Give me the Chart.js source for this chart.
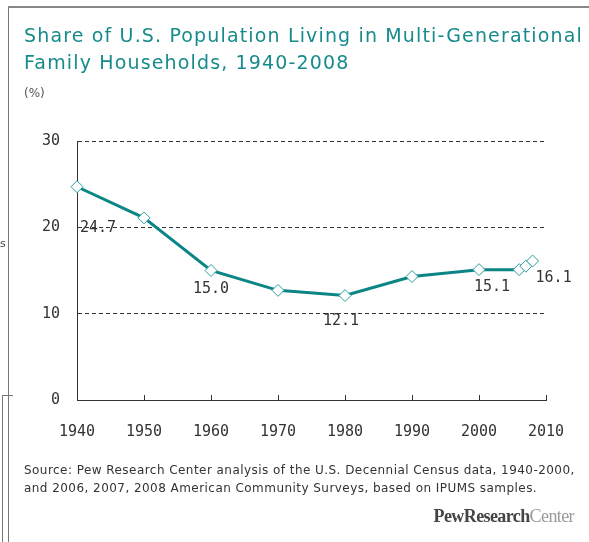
<!DOCTYPE html>
<html>
<head>
<meta charset="utf-8">
<script src="https://cdn.jsdelivr.net/npm/chart.js@4/dist/chart.umd.min.js"></script>
<style>
  body { margin: 0; background: #fff; }
  #wrap { position: relative; width: 589px; height: 542px; overflow: hidden; background: #fff; }
  #frame { position: absolute; left: 8px; top: 6px; width: 590px; height: 540px; border-left: 1px solid #777; border-top: 2px solid #888; }
  #stub { position: absolute; left: 2px; top: 395px; width: 10px; height: 160px; border-left: 1px solid #777; border-top: 1px solid #777; }
  #stubtxt { position: absolute; left: 0px; top: 237px; font: 11px "DejaVu Sans"; color: #444; }
  #title { position: absolute; left: 24px; top: 22px; font: 19px "DejaVu Sans"; letter-spacing: 1.15px; color: #178b8b; line-height: 27px; white-space: nowrap; }
  #unit { position: absolute; left: 24px; top: 86px; font: 12px "DejaVu Sans"; color: #555; }
  #source { position: absolute; left: 24px; top: 461px; font: 12px "DejaVu Sans"; letter-spacing: 0.45px; color: #333; line-height: 18px; white-space: nowrap; }
  #logo { position: absolute; right: 15px; top: 506px; font: 18px "Liberation Serif", serif; letter-spacing: -0.6px; }
  #logo b { color: #444; }
  #logo span { color: #999; }
  canvas { position: absolute; left: 0; top: 0; }
</style>
</head>
<body>
<div id="wrap">
  <canvas id="chart" width="589" height="542"></canvas>
  <div id="frame"></div>
  <div id="stub"></div>
  <div id="stubtxt">s</div>
  <div id="title">Share of U.S. Population Living in Multi-Generational<br>Family Households, 1940-2008</div>
  <div id="unit">(%)</div>
  <div id="source">Source: Pew Research Center analysis of the U.S. Decennial Census data, 1940-2000,<br>and 2006, 2007, 2008 American Community Surveys, based on IPUMS samples.</div>
  <div id="logo"><b>PewResearch</b><span>Center</span></div>
</div>
<script>
// valeurs
const years = [1940, 1950, 1960, 1970, 1980, 1990, 2000, 2006, 2007, 2008];
const shares = [24.7, 21.1, 15.0, 12.7, 12.1, 14.3, 15.1, 15.1, 15.5, 16.1];
const xTicks = [1940, 1950, 1960, 1970, 1980, 1990, 2000, 2010];
const yTicks = [0, 10, 20, 30];
const labeledYears = [1940, 1960, 1980, 2000, 2008];

const teal = '#0b8585';
const monoFont = '"DejaVu Sans Mono", monospace';

// decalage des etiquettes par rapport au point (px)
const labelOffsets = {
  1940: [21, 41],
  1960: [0, 19],
  1980: [-4, 26],
  2000: [13, 17],
  2008: [21, 17]
};

// etiquettes de valeurs + petits traits vers l'interieur sur l'axe x
const extras = {
  id: 'extras',
  afterDatasetsDraw(chart) {
    const ctx = chart.ctx;
    const xs = chart.scales.x;
    const area = chart.chartArea;
    ctx.save();
    ctx.strokeStyle = '#333';
    ctx.lineWidth = 1;
    xTicks.forEach(v => {
      const px = Math.round(xs.getPixelForValue(v)) + 0.5;
      ctx.beginPath();
      ctx.moveTo(px, area.bottom);
      ctx.lineTo(px, area.bottom - 5);
      ctx.stroke();
    });

    const meta = chart.getDatasetMeta(0);
    ctx.font = '15px ' + monoFont;
    ctx.fillStyle = '#333';
    ctx.textAlign = 'center';
    ctx.textBaseline = 'middle';
    years.forEach((yr, i) => {
      if (!labeledYears.includes(yr)) return;
      const pt = meta.data[i];
      const off = labelOffsets[yr];
      ctx.fillText(shares[i].toFixed(1), pt.x + off[0], pt.y + off[1]);
    });
    ctx.restore();
  }
};

new Chart(document.getElementById('chart'), {
  type: 'line',
  data: {
    datasets: [{
      data: years.map((y, i) => ({ x: y, y: shares[i] })),
      borderColor: teal,
      borderWidth: 3,
      tension: 0,
      pointStyle: 'rectRot',
      pointRadius: 6,
      pointBorderWidth: 1,
      pointBackgroundColor: '#fff',
      pointBorderColor: '#2a9d9d',
      clip: false
    }]
  },
  options: {
    responsive: false,
    animation: false,
    layout: { padding: { top: 141, left: 0, right: 43, bottom: 0 } },
    plugins: { legend: { display: false }, tooltip: { enabled: false } },
    scales: {
      x: {
        type: 'linear',
        min: 1940,
        max: 2010,
        afterFit: s => { s.height = 142; },
        afterBuildTicks: s => { s.ticks = xTicks.map(v => ({ value: v })); },
        grid: { display: false, drawTicks: false },
        border: { display: true, color: '#333', width: 1 },
        ticks: {
          padding: 23,
          color: '#333',
          font: { family: monoFont, size: 15 },
          callback: v => String(v)
        }
      },
      y: {
        min: 0,
        max: 30,
        afterFit: s => { s.width = 77; },
        afterBuildTicks: s => { s.ticks = yTicks.map(v => ({ value: v })); },
        grid: {
          drawTicks: false,
          color: c => (c.tick && c.tick.value === 0) ? 'rgba(0,0,0,0)' : '#333',
          lineWidth: 1
        },
        border: { display: true, color: '#333', width: 1, dash: [4, 3] },
        ticks: {
          padding: 17,
          color: '#333',
          font: { family: monoFont, size: 15 }
        }
      }
    }
  },
  plugins: [extras]
});
</script>
</body>
</html>
